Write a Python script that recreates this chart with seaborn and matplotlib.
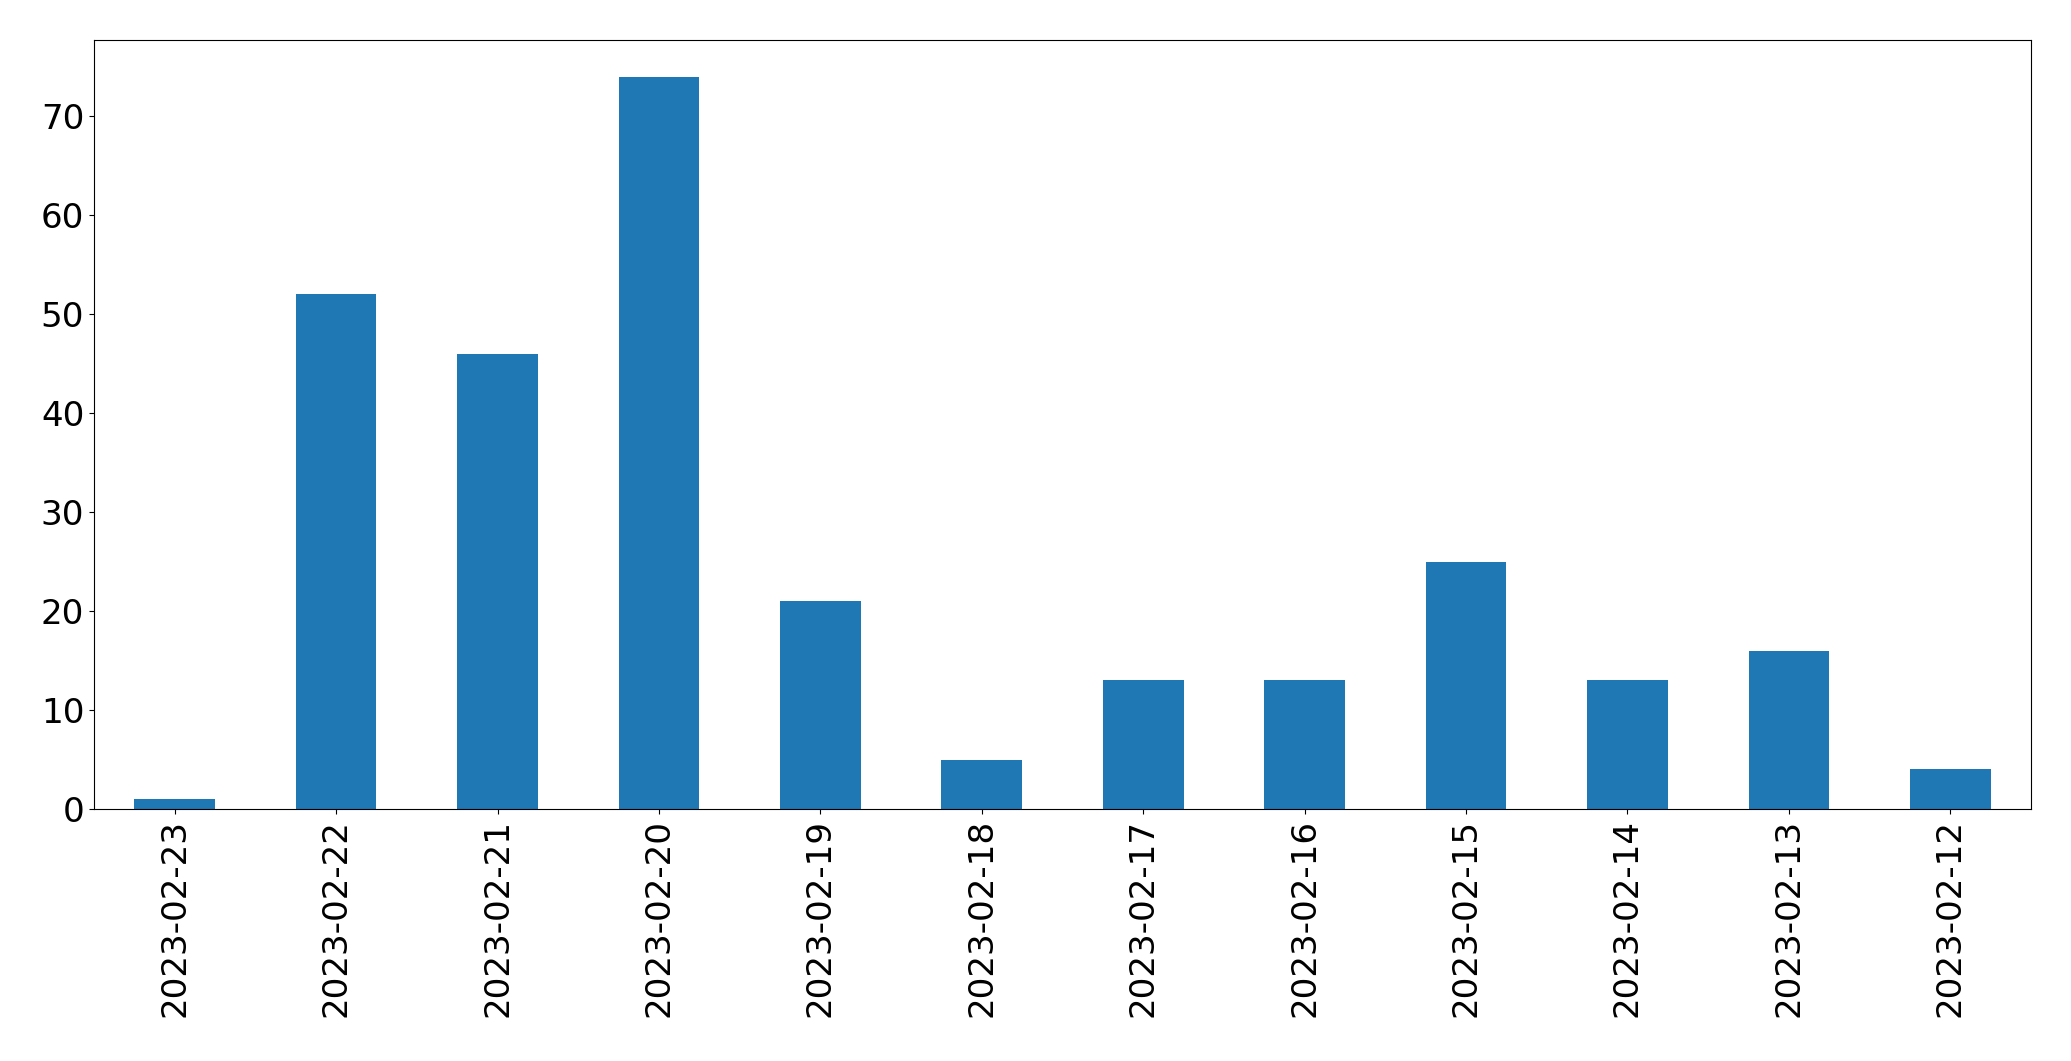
import matplotlib
matplotlib.use("Agg")
import matplotlib.pyplot as plt
import pandas as pd
import seaborn as sns

# Daily counts, newest first (as in the original plot)
dates = ["2023-02-23", "2023-02-22", "2023-02-21", "2023-02-20", "2023-02-19", "2023-02-18",
         "2023-02-17", "2023-02-16", "2023-02-15", "2023-02-14", "2023-02-13", "2023-02-12"]
counts = [1, 52, 46, 74, 21, 5, 13, 13, 25, 13, 16, 4]

df = pd.DataFrame({"date": dates, "count": counts})

plt.rcParams.update({"font.size": 24.6, "font.family": ["DejaVu Sans"]})

fig, ax = plt.subplots(figsize=(20.71, 10.61), dpi=100)
fig.subplots_adjust(left=94 / 2071, right=2031 / 2071, top=1 - 40 / 1061, bottom=1 - 809 / 1061)

sns.barplot(data=df, x="date", y="count", order=dates, color="#1f77b4",
            saturation=1, width=0.5, ax=ax)

ax.set_xlim(-0.5, len(dates) - 0.5)
ax.set_ylim(0, max(counts) * 1.05)
ax.set_xlabel("")
ax.set_ylabel("")
ax.tick_params(axis="x", rotation=90, labelsize=24.6)
ax.tick_params(axis="y", labelsize=24.6)
for side in ["top", "right", "left", "bottom"]:
    ax.spines[side].set_visible(True)
    ax.spines[side].set_color("black")

fig.savefig("out.png", dpi=100)
